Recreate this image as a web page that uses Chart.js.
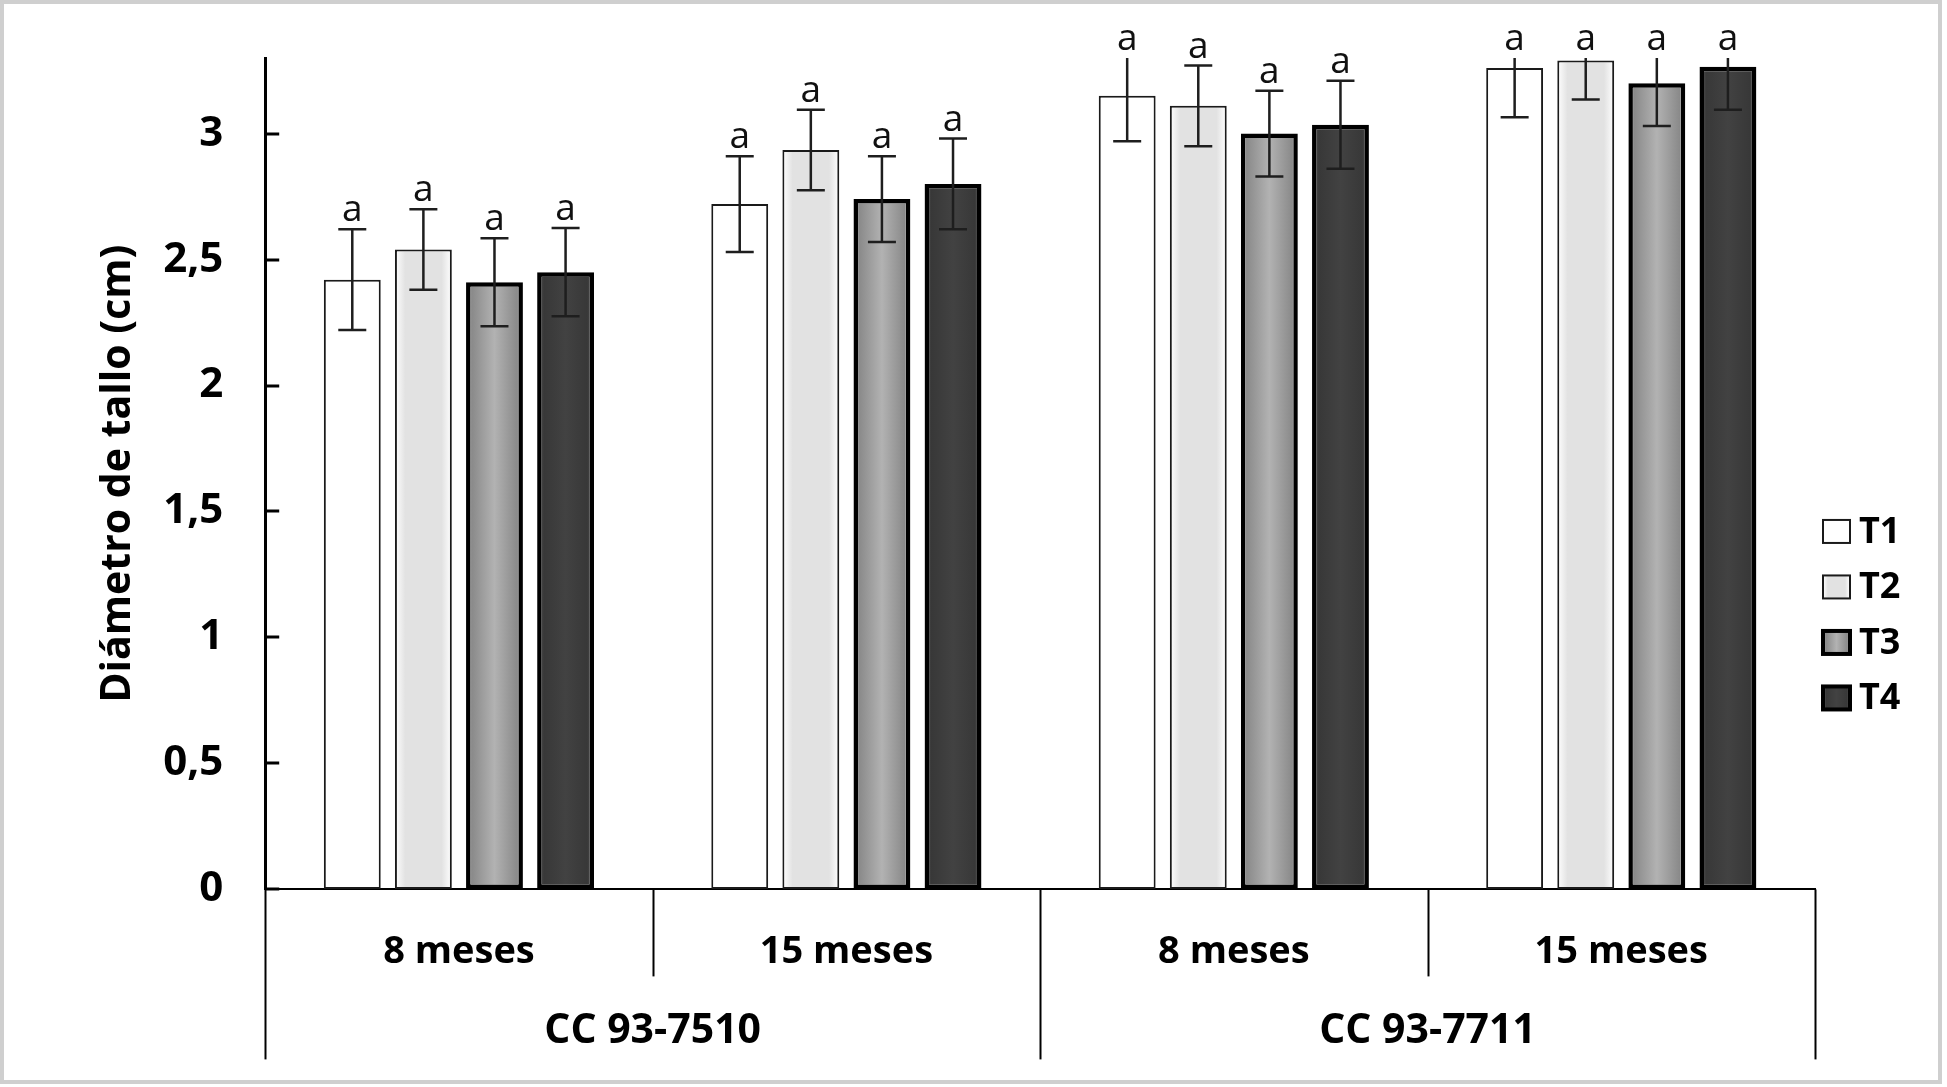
<!DOCTYPE html>
<html>
<head>
<meta charset="utf-8">
<script src="https://cdn.jsdelivr.net/npm/chart.js@4.4.1/dist/chart.umd.min.js"></script>
<style>
  html, body { margin: 0; padding: 0; background: #ffffff; }
  #wrap { position: relative; width: 1947px; height: 1087px; }
  #frame { position: absolute; left: 0; top: 0; width: 1942px; height: 1084px; box-sizing: border-box;
           border: 4px solid #cfcfcf; pointer-events: none; }
  canvas { display: block; }
</style>
</head>
<body>
<div id="wrap">
  <canvas id="c" width="1947" height="1087"></canvas>
  <div id="frame"></div>
</div>
<script>
// ---- data ----
const categories = ['8 meses', '15 meses', '8 meses', '15 meses'];
const groups = ['CC 93-7510', 'CC 93-7711'];
const seriesNames = ['T1', 'T2', 'T3', 'T4'];

const t1Values = [2.42, 2.72, 3.15, 3.26];
const t2Values = [2.54, 2.935, 3.11, 3.29];
const t3Values = [2.41, 2.74, 3.00, 3.20];
const t4Values = [2.45, 2.80, 3.035, 3.265];

const t1Errors = [0.20, 0.19, 0.18, 0.195];
const t2Errors = [0.16, 0.16, 0.16, 0.155];
const t3Errors = [0.175, 0.17, 0.17, 0.17];
const t4Errors = [0.175, 0.18, 0.175, 0.17];

const t1Letters = ['a', 'a', 'a', 'a'];
const t2Letters = ['a', 'a', 'a', 'a'];
const t3Letters = ['a', 'a', 'a', 'a'];
const t4Letters = ['a', 'a', 'a', 'a'];

const yMin = 0, yMax = 3.3, yStep = 0.5;

// ---- styles ----
const FONT = "'Open Sans', 'Noto Sans', sans-serif";
const seriesStyle = [
  { solid: '#ffffff', border: '#1a1a1a', bw: 2, stops: [[0, '#ffffff'], [1, '#ffffff']] },
  { solid: '#e3e3e3', border: '#1a1a1a', bw: 2, stops: [[0, '#ffffff'], [0.18, '#e2e2e2'], [0.82, '#e2e2e2'], [1, '#ffffff']] },
  { solid: '#a0a0a0', border: '#000000', bw: 4.5, stops: [[0, '#d8d8d8'], [0.1, '#8a8a8a'], [0.5, '#b2b2b2'], [0.9, '#8a8a8a'], [1, '#d0d0d0']] },
  { solid: '#3d3d3d', border: '#000000', bw: 4.5, stops: [[0, '#5a5a5a'], [0.12, '#383838'], [0.5, '#424242'], [0.88, '#383838'], [1, '#555555']] }
];

const values = [t1Values, t2Values, t3Values, t4Values];
const errors = [t1Errors, t2Errors, t3Errors, t4Errors];
const letters = [t1Letters, t2Letters, t3Letters, t4Letters];

const datasets = seriesNames.map((name, i) => ({
  label: name,
  data: values[i],
  errors: errors[i],
  letters: letters[i],
  backgroundColor: (ctx) => seriesStyle[ctx.datasetIndex].solid,
  borderColor: seriesStyle[i].border,
  borderWidth: seriesStyle[i].bw,
  borderSkipped: false,
  categoryPercentage: 0.734,
  barPercentage: 0.8
}));

// per-bar horizontal gradient fill
const gradientPlugin = {
  id: 'gradientFill',
  beforeDatasetsDraw(chart) {
    const ctx = chart.ctx;
    chart.data.datasets.forEach((ds, i) => {
      const meta = chart.getDatasetMeta(i);
      meta.data.forEach(bar => {
        const p = bar.getProps(['x', 'width'], true);
        const g = ctx.createLinearGradient(p.x - p.width / 2, 0, p.x + p.width / 2, 0);
        seriesStyle[i].stops.forEach(s => g.addColorStop(s[0], s[1]));
        bar.options.backgroundColor = g;
      });
    });
  }
};

// error bars + significance letters
const errorBarPlugin = {
  id: 'errorBars',
  afterDatasetsDraw(chart) {
    const ctx = chart.ctx;
    const y = chart.scales.y;
    const area = chart.chartArea;
    ctx.save();
    chart.data.datasets.forEach((ds, i) => {
      const meta = chart.getDatasetMeta(i);
      meta.data.forEach((bar, j) => {
        const v = ds.data[j], e = ds.errors[j];
        const x = bar.x;
        const hi = v + e, lo = v - e;
        let yHi = y.getPixelForValue(hi);
        const yLo = y.getPixelForValue(lo);
        const clipped = yHi < area.top;
        if (clipped) yHi = area.top;
        const cap = 14;
        ctx.strokeStyle = '#1e1e1e';
        ctx.lineWidth = 2.5;
        ctx.beginPath();
        ctx.moveTo(x, yHi); ctx.lineTo(x, yLo);
        ctx.moveTo(x - cap, yLo); ctx.lineTo(x + cap, yLo);
        if (!clipped) { ctx.moveTo(x - cap, yHi); ctx.lineTo(x + cap, yHi); }
        ctx.stroke();
        ctx.fillStyle = '#111111';
        ctx.font = "37px " + FONT;
        ctx.textAlign = 'center';
        ctx.textBaseline = 'alphabetic';
        ctx.fillText(ds.letters[j], x, yHi - 8);
      });
    });
    ctx.restore();
  }
};

// inward y tick marks, category separators, group labels, legend
const axisExtrasPlugin = {
  id: 'axisExtras',
  afterDraw(chart) {
    const ctx = chart.ctx;
    const xs = chart.scales.x, ys = chart.scales.y;
    const area = chart.chartArea;
    ctx.save();
    ctx.strokeStyle = '#000';
    ctx.lineWidth = 3;
    ys.ticks.forEach(t => {
      const py = Math.round(ys.getPixelForValue(t.value));
      ctx.beginPath();
      ctx.moveTo(area.left, py); ctx.lineTo(area.left + 14, py);
      ctx.stroke();
    });
    // separators: short between sub-categories, long between groups
    const catW = xs.getPixelForValue(1) - xs.getPixelForValue(0);
    const edge = (k) => xs.getPixelForValue(k) - catW / 2;
    ctx.lineWidth = 2;
    for (let k = 0; k <= categories.length; k++) {
      const px = Math.round(edge(k)) + 0.5;
      const len = (k % 2 === 0) ? 170 : 87;
      ctx.beginPath();
      ctx.moveTo(px, area.bottom);
      ctx.lineTo(px, area.bottom + len);
      ctx.stroke();
    }
    // group labels
    ctx.fillStyle = '#000';
    ctx.font = "bold 41px " + FONT;
    ctx.textAlign = 'center';
    ctx.textBaseline = 'middle';
    groups.forEach((g, gi) => {
      const cx = (xs.getPixelForValue(gi * 2) + xs.getPixelForValue(gi * 2 + 1)) / 2;
      ctx.fillText(g, cx, area.bottom + 142);
    });
    // legend
    const lx = area.right + 8;
    const midY = (area.top + area.bottom) / 2;
    const rowH = 55.5;
    ctx.font = "bold 36px " + FONT;
    ctx.textAlign = 'left';
    chart.data.datasets.forEach((ds, i) => {
      const cy = midY + 141 + (i - 1.5) * rowH;
      const bw = 27, bh = 23;
      const st = seriesStyle[i];
      const g = ctx.createLinearGradient(lx, 0, lx + bw, 0);
      st.stops.forEach(s => g.addColorStop(s[0], s[1]));
      ctx.fillStyle = g;
      ctx.fillRect(lx, cy - bh / 2, bw, bh);
      ctx.strokeStyle = st.border;
      ctx.lineWidth = i >= 2 ? 4 : 2;
      ctx.strokeRect(lx, cy - bh / 2, bw, bh);
      ctx.fillStyle = '#000';
      ctx.fillText(ds.label, lx + bw + 9, cy + 1);
    });
    ctx.restore();
  }
};

new Chart(document.getElementById('c'), {
  type: 'bar',
  data: { labels: categories, datasets: datasets },
  plugins: [gradientPlugin, errorBarPlugin, axisExtrasPlugin],
  options: {
    responsive: false,
    animation: false,
    devicePixelRatio: 1,
    layout: { padding: { left: 90, right: 132, top: 58, bottom: 72 } },
    plugins: {
      legend: { display: false },
      tooltip: { enabled: false }
    },
    scales: {
      x: {
        type: 'category',
        offset: true,
        grid: { display: true, offset: true, drawOnChartArea: false, drawTicks: false },
        border: { display: true, color: '#000', width: 2 },
        ticks: { color: '#000', font: { family: FONT, size: 38, weight: 'bold' }, padding: 40,
                 maxRotation: 0, autoSkip: false }
      },
      y: {
        min: yMin, max: yMax,
        afterBuildTicks: (scale) => { scale.ticks = scale.ticks.filter(t => t.value <= 3.0001); },
        afterFit: (scale) => { scale.paddingTop = 0; },
        grid: { display: true, drawOnChartArea: false, drawTicks: false },
        border: { display: true, color: '#000', width: 3 },
        ticks: {
          stepSize: yStep, padding: 42, color: '#000',
          font: { family: FONT, size: 42, weight: 'bold' },
          callback: (v) => String(v).replace('.', ',')
        },
        title: {
          display: true, text: 'Diámetro de tallo (cm)', color: '#000',
          font: { family: FONT, size: 41, weight: 'bold' },
          padding: { top: 4, bottom: -22 }
        }
      }
    }
  }
});
</script>
</body>
</html>
